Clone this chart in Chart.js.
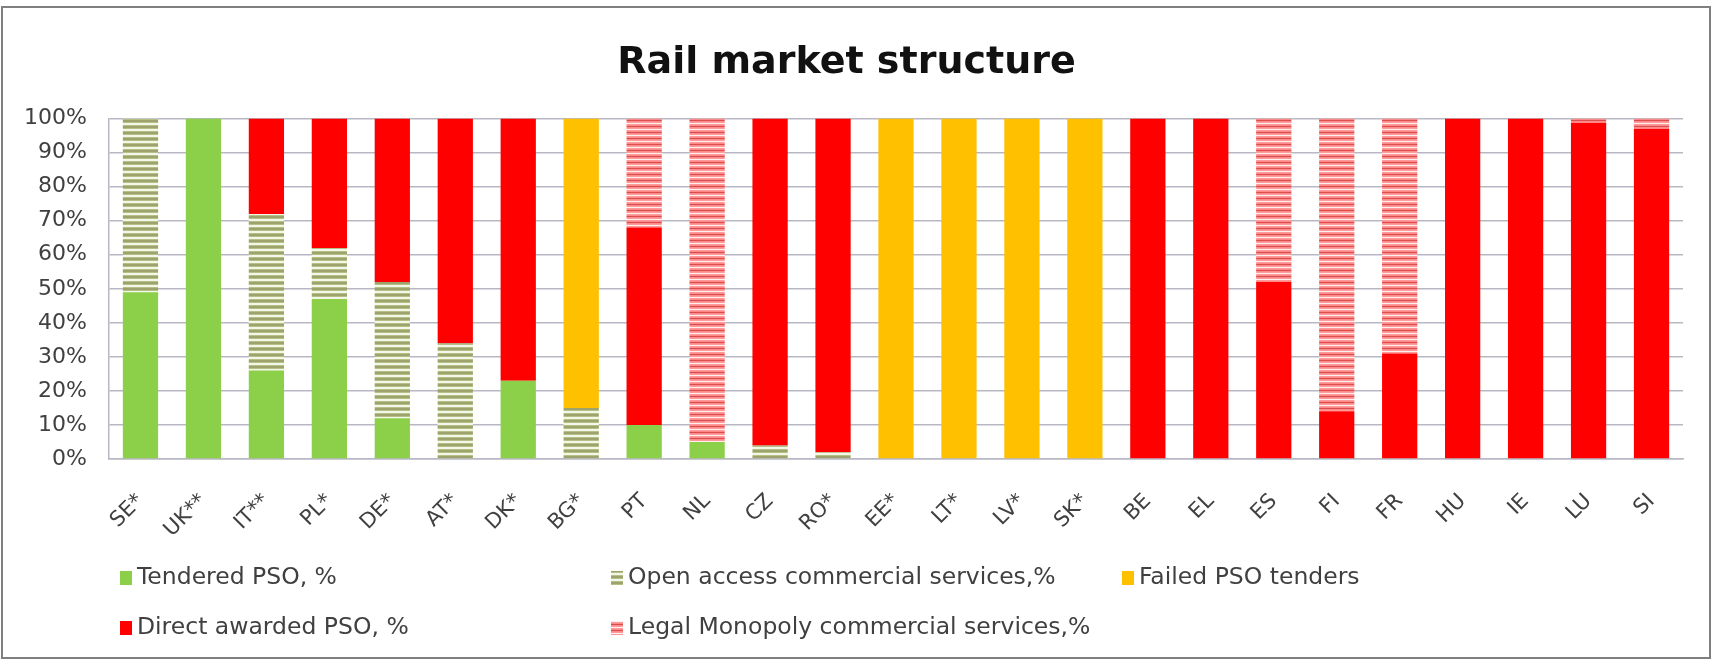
<!DOCTYPE html>
<html>
<head>
<meta charset="utf-8">
<title>Rail market structure</title>
<script src="https://cdn.jsdelivr.net/npm/chart.js@4/dist/chart.umd.min.js"></script>
<style>
  html, body { margin: 0; padding: 0; background: #fff; }
  canvas { display: block; }
</style>
</head>
<body>
<canvas id="rail-chart" width="1714" height="661"></canvas>
<script>
const countries = ['SE*', 'UK**', 'IT**', 'PL*', 'DE*', 'AT*', 'DK*', 'BG*', 'PT', 'NL', 'CZ', 'RO*',
    'EE*', 'LT*', 'LV*', 'SK*', 'BE', 'EL', 'ES', 'FI', 'FR', 'HU', 'IE', 'LU', 'SI'];

const tenderedPso = [49, 100, 26, 47, 12, 0, 23, 0, 10, 5, 0, 0, 0, 0, 0, 0, 0, 0, 0, 0, 0, 0, 0, 0, 0];
const openAccess = [51, 0, 46, 15, 40, 34, 0, 15, 0, 0, 4, 2, 0, 0, 0, 0, 0, 0, 0, 0, 0, 0, 0, 0, 0];
const failedTenders = [0, 0, 0, 0, 0, 0, 0, 85, 0, 0, 0, 0, 100, 100, 100, 100, 0, 0, 0, 0, 0, 0, 0, 0, 0];
const directAwarded = [0, 0, 28, 38, 48, 66, 77, 0, 58, 0, 96, 98, 0, 0, 0, 0, 100, 100, 52, 14, 31, 100, 100, 98.8, 97];
const legalMonopoly = [0, 0, 0, 0, 0, 0, 0, 0, 32, 95, 0, 0, 0, 0, 0, 0, 0, 0, 48, 86, 69, 0, 0, 1.2, 3];

const yTicks = [0, 10, 20, 30, 40, 50, 60, 70, 80, 90, 100];

const FONT = 'DejaVu Sans';

// horizontal stripe fill, one colour per pixel row
function stripes(rows) {
    const c = document.createElement('canvas');
    c.width = 1;
    c.height = rows.length;
    const g = c.getContext('2d');
    rows.forEach((col, i) => {
        g.fillStyle = col;
        g.fillRect(0, i, 1, 1);
    });
    return g.createPattern(c, 'repeat');
}

const green = '#8ccf48';
const red = '#ff0000';
const amber = '#ffc000';
const greenStripes = stripes(['#9ea26c', '#9ea26c', '#b3c185', '#f3f6e8', '#f3f6e8', '#b3c185']);
const redStripes = stripes(['#d84e4e', '#ff8a8a', '#ff9a9a', '#fff0f0', '#ff9a9a', '#ff8a8a']);

const datasets = [
    { label: 'Tendered PSO, %', data: tenderedPso, backgroundColor: green },
    { label: 'Open access commercial services,%', data: openAccess, backgroundColor: greenStripes },
    { label: 'Failed PSO tenders', data: failedTenders, backgroundColor: amber },
    { label: 'Direct awarded PSO, %', data: directAwarded, backgroundColor: red },
    { label: 'Legal Monopoly commercial services,%', data: legalMonopoly, backgroundColor: redStripes }
];

// legend laid out as a grid: [dataset index, column x, row y]
const legendSlots = [
    [0, 120, 578], [1, 611, 578], [2, 1122, 578],
    [3, 120, 628], [4, 611, 628]
];

const framePlugin = {
    id: 'frame',
    beforeDraw(chart) {
        const ctx = chart.ctx;
        ctx.save();
        ctx.strokeStyle = '#7f7f7f';
        ctx.lineWidth = 2;
        ctx.strokeRect(2, 7, 1708, 651);
        ctx.restore();
    }
};

const gridLegend = {
    id: 'gridLegend',
    afterDraw(chart) {
        const ctx = chart.ctx;
        ctx.save();
        ctx.font = '23.5px "' + FONT + '"';
        ctx.textBaseline = 'middle';
        ctx.textAlign = 'left';
        legendSlots.forEach(([i, x, y]) => {
            const ds = chart.data.datasets[i];
            ctx.fillStyle = ds.backgroundColor;
            ctx.fillRect(x, y - 7, 12, 14);
            ctx.fillStyle = '#404040';
            ctx.fillText(ds.label, x + 17, y);
        });
        ctx.restore();
    }
};

const gridColor = '#b8b8c4';

new Chart(document.getElementById('rail-chart').getContext('2d'), {
    type: 'bar',
    data: {
        labels: countries,
        datasets: datasets.map(d => Object.assign({
            borderWidth: 0,
            barPercentage: 0.56,
            categoryPercentage: 1
        }, d))
    },
    options: {
        responsive: false,
        animation: false,
        devicePixelRatio: 1,
        layout: { padding: { left: 10, right: 31, top: 30, bottom: 102 } },
        plugins: {
            legend: { display: false },
            tooltip: { enabled: false },
            title: {
                display: true,
                text: 'Rail market structure',
                color: '#111',
                font: { family: FONT, size: 38, weight: 'bold' },
                padding: { top: 10, bottom: 33 }
            }
        },
        scales: {
            x: {
                stacked: true,
                grid: { display: false },
                border: { display: true, color: gridColor, width: 1.5 },
                ticks: {
                    color: '#404040',
                    font: { family: FONT, size: 21 },
                    minRotation: 45,
                    maxRotation: 45,
                    padding: 22
                },
                afterFit(scale) { scale.height = 100; }
            },
            y: {
                stacked: true,
                min: 0,
                max: 100,
                afterBuildTicks(scale) {
                    scale.ticks = yTicks.map(v => ({ value: v }));
                },
                grid: { color: gridColor, lineWidth: 1.5, drawTicks: false },
                border: { display: true, color: gridColor, width: 1.5 },
                ticks: {
                    color: '#404040',
                    font: { family: FONT, size: 22 },
                    padding: 22,
                    callback: v => v + '%'
                },
                afterFit(scale) { scale.width = 99; }
            }
        }
    },
    plugins: [framePlugin, gridLegend]
});
</script>
</body>
</html>
